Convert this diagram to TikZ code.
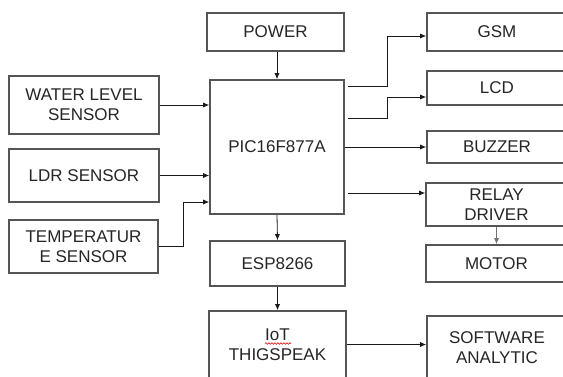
\documentclass[tikz,border=0pt]{standalone}
\usepackage{fontspec}
\setmainfont{Liberation Sans}
\usetikzlibrary{arrows.meta,decorations.pathmorphing}
\definecolor{boxline}{RGB}{85,85,85}
\definecolor{txt}{RGB}{38,38,38}
\begin{document}
\begin{tikzpicture}[x=1pt,y=-1pt,
  blk/.style={draw=boxline,line width=1.6pt,rectangle,align=center,inner sep=0pt,
    text=txt,font=\fontsize{17}{20}\selectfont},
  arr/.style={draw=black!90,line width=0.8pt,-{Latex[length=6pt,width=5pt]}},
  garr/.style={draw=black!55,line width=1pt,-{Latex[length=6pt,width=5pt]}}]
\clip (0,0) rectangle (563,376);
\fill[white] (0,0) rectangle (563,376);
% left column
\node[blk,minimum width=150,minimum height=58] (water) at (84,105) {WATER LEVEL\\SENSOR};
\node[blk,minimum width=150,minimum height=53] (ldr) at (84,175.5) {LDR SENSOR};
\node[blk,minimum width=149,minimum height=53] (temp) at (83.5,246.5) {TEMPERATUR\\E SENSOR};
% middle column
\node[blk,minimum width=137,minimum height=38] (pow) at (275.5,32) {POWER};
\node[blk,minimum width=134,minimum height=134] (pic) at (277,147) {PIC16F877A};
\node[blk,minimum width=135,minimum height=45] (esp) at (277.5,263.5) {ESP8266};
\node[blk,minimum width=137,minimum height=67] (iot) at (277.5,344.5) {IoT\\THIGSPEAK};
% right column
\node[blk,minimum width=140,minimum height=38] (gsm) at (497,32) {GSM};
\node[blk,minimum width=140,minimum height=34] (lcd) at (497,88) {LCD};
\node[blk,minimum width=140,minimum height=32] (buz) at (497,147) {BUZZER};
\node[blk,minimum width=141,minimum height=43] (relay) at (496.5,204.5) {RELAY\\DRIVER};
\node[blk,minimum width=141,minimum height=37] (motor) at (496.5,263.5) {MOTOR};
\node[blk,minimum width=140,minimum height=64] (soft) at (497,348) {SOFTWARE\\ANALYTIC};
% spell-check squiggle
\draw[red!85!black,line width=0.6pt,decorate,decoration={snake,amplitude=0.8pt,segment length=3pt}] (265,343.5) -- (291,343.5);
% connectors
\draw[arr] (pic.north |- pow.south) -- (pic.north);
\draw[arr] (water.east) -- (water.east -| pic.west);
\draw[arr] (ldr.east) -- (ldr.east -| pic.west);
\coordinate (tk1) at (183,246.5);
\coordinate (tk2) at (183,202);
\draw[arr] (temp.east) -- (tk1) -- (tk2) -- (tk2 -| pic.west);
\coordinate (g0) at (348,86);
\coordinate (g1) at (387,86);
\coordinate (g2) at (387,36);
\draw[arr] (g0) -- (g1) -- (g2) -- (g2 -| gsm.west);
\coordinate (l0) at (348,118);
\coordinate (l1) at (387,118);
\coordinate (l2) at (387,97);
\draw[arr] (l0) -- (l1) -- (l2) -- (l2 -| lcd.west);
\draw[arr] (pic.east) -- (buz.west);
\coordinate (r0) at (348,193);
\draw[arr] (r0) -- (r0 -| relay.west);
\draw[garr] (relay.south) -- (motor.north);
\draw[arr] (pic.south) -- (esp.north);
\draw[arr] (esp.south) -- (iot.north);
\draw[arr] (iot.east) -- (iot.east -| soft.west);
\end{tikzpicture}
\end{document}
